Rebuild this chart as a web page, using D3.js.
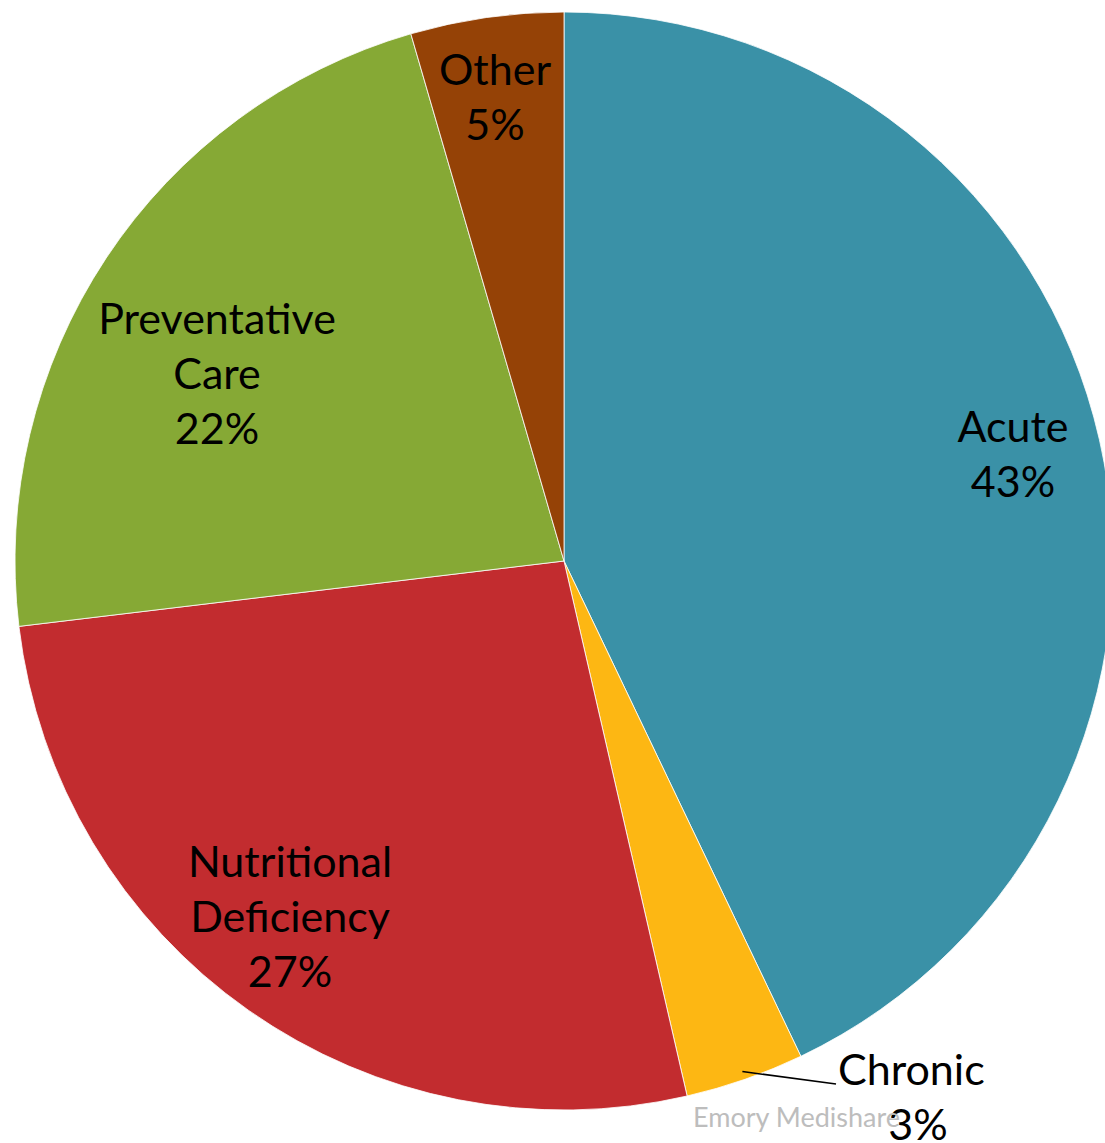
<!DOCTYPE html>
<html><head><meta charset="utf-8">
<script src="https://cdn.jsdelivr.net/npm/d3@7"></script>
<style>body{margin:0;background:#fff}svg{display:block}text{font-family:Lato,"Open Sans",sans-serif}</style>
</head><body>
<script>
const categories = ["Acute","Chronic","Nutritional Deficiency","Preventative Care","Other"];
const values = [42.9, 3.5, 26.7, 22.4, 4.5];
const pctLabels = ["43%","3%","27%","22%","5%"];
const labelLines = [["Acute"],["Chronic"],["Nutritional","Deficiency"],["Preventative","Care"],["Other"]];
const colors = ["#3A91A7","#FDB713","#C22C2F","#86A935","#954206"];

const W = 1105, H = 1143;
const cx = 564, cy = 561, R = 549;
// label anchor offsets from centre (layout), first line baseline
const labelAt = [[449,-119,"middle"],[274,524,"start"],[-274,316,"middle"],[-347,-227,"middle"],[-69,-476,"middle"]];
const lineH = 55;

const svg = d3.select("body").append("svg").attr("width",W).attr("height",H);
const g = svg.append("g").attr("transform",`translate(${cx},${cy})`);
const pie = d3.pie().sort(null).value(d=>d)(values);
const arc = d3.arc().innerRadius(0).outerRadius(R);
g.selectAll("path").data(pie).join("path")
  .attr("d",arc).attr("fill",(d,i)=>colors[i])
  .attr("stroke","#fff").attr("stroke-width",0.8);

// leader line for Chronic
const chr = pie[1];
const mid = (chr.startAngle+chr.endAngle)/2;
const r0 = R*0.985;
g.append("path")
  .attr("d",`M${Math.sin(mid)*r0},${-Math.cos(mid)*r0}L${labelAt[1][0]-2},${labelAt[1][1]-1}`)
  .attr("stroke","#000").attr("stroke-width",1.5).attr("fill","none");

categories.forEach((c,i)=>{
  const [x,y,anchor] = labelAt[i];
  const lines = labelLines[i].concat([pctLabels[i]]);
  const t = g.append("text").attr("font-size",43).attr("fill","#000");
  lines.forEach((s,k)=>{
    let xx = x, an = anchor;
    if(i===1 && k===1){ xx = x+80; an="middle"; }
    t.append("tspan").attr("x",xx).attr("y",y+k*lineH).attr("text-anchor",an).text(s);
  });
});

svg.append("text").attr("x",693).attr("y",1127).attr("font-size",27)
  .attr("fill","#bdbdbd").text("Emory Medishare");
</script>
</body></html>
